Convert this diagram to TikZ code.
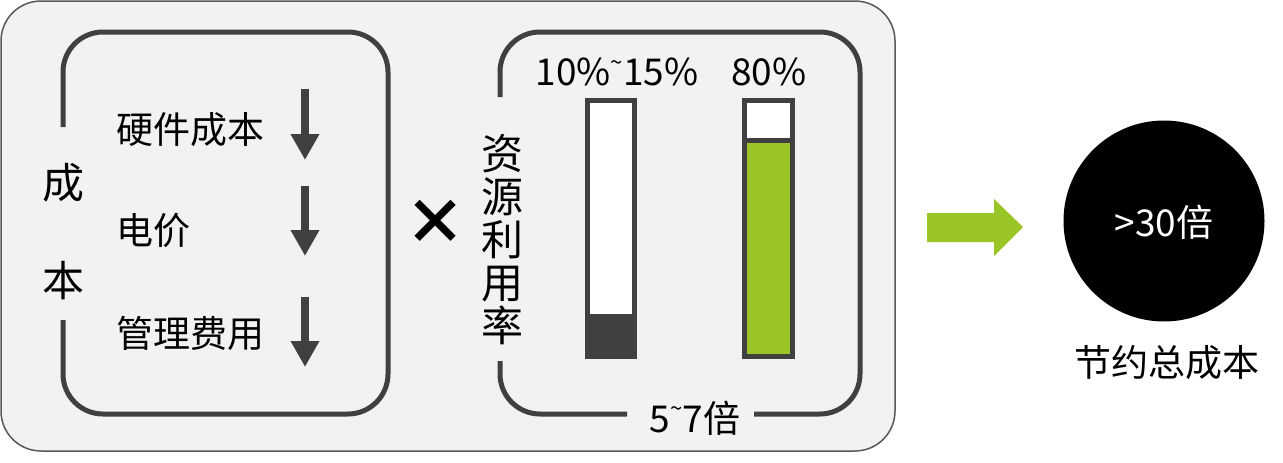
\documentclass[tikz,border=0pt]{standalone}
\usepackage{fontspec}
\setmainfont{Noto Sans CJK SC}
\usetikzlibrary{arrows.meta}
\definecolor{boxgray}{HTML}{F2F2F2}
\definecolor{outline}{HTML}{595959}
\definecolor{dark}{HTML}{404040}
\definecolor{leaf}{HTML}{99C527}
\newcommand{\hitilde}{\raisebox{0.42em}{\fontsize{22}{22}\selectfont\textasciitilde}}
\tikzset{
  outerbox/.style={draw=outline, line width=1.5pt, fill=boxgray, rounded corners=40pt},
  innerline/.style={draw=dark, line width=5pt, rounded corners=40pt},
  lbl/.style={inner sep=0pt, font=\fontsize{37}{40}\selectfont},
  biglbl/.style={inner sep=0pt, font=\fontsize{42}{44}\selectfont},
  downarrow/.style={draw=dark, line width=8pt, -{Triangle[width=27pt,length=26pt]}},
  bar/.style={draw=dark, line width=5pt},
}
\begin{document}
\begin{tikzpicture}[x=1pt,y=-1pt]
\useasboundingbox (0,0) rectangle (1283,463);
% outer box
\draw[outerbox] (1,1) rectangle (895,451);
% left inner box with gap
\draw[innerline] (63,127) -- (63,32) -- (388,32) -- (388,414) -- (63,414) -- (63,320);
\node[biglbl] (cheng) at (63,183) {成};
\node[biglbl] (ben) at (63,281) {本};
\node[lbl, anchor=west] (hw) at (116,130) {硬件成本};
\node[lbl, anchor=west] (elec) at (116,231) {电价};
\node[lbl, anchor=west] (mgmt) at (116,333) {管理费用};
\coordinate (a1s) at (305,89);  \coordinate (a1e) at (305,160);
\coordinate (a2s) at (305,186); \coordinate (a2e) at (305,256);
\coordinate (a3s) at (305,297); \coordinate (a3e) at (305,367);
\draw[downarrow] (a1s) -- (a1e);
\draw[downarrow] (a2s) -- (a2e);
\draw[downarrow] (a3s) -- (a3e);
% times sign
\node[inner sep=0pt, font=\fontsize{62}{64}\selectfont\bfseries] (times) at (435,222) {×};
% right inner box with gaps
\draw[innerline] (500,97) -- (500,32) -- (860,32) -- (860,414) -- (754,414);
\draw[innerline] (627,414) -- (500,414) -- (500,361);
\node[lbl] (mult) at (695,418) {5\hitilde 7倍};
\node[inner sep=0pt, align=center, font=\fontsize{42}{43}\selectfont] (util) at (502,240) {资\\源\\利\\用\\率};
\node[lbl] (p1) at (617,72) {10\%\hitilde 15\%};
\node[lbl] (p2) at (769,72) {80\%};
% bars
\fill[white] (587,100) rectangle (634,356);
\fill[dark] (587,314) rectangle (634,356);
\draw[bar] (587,100) rectangle (634,356);
\fill[white] (744,100) rectangle (792,140);
\fill[leaf] (744,140) rectangle (792,356);
\draw[bar] (744,100) rectangle (792,356);
\draw[bar] (744,140) -- (792,140);
% green arrow
\fill[leaf] (927,213) -- (994,213) -- (994,199) -- (1023,227) -- (994,256) -- (994,242) -- (927,242) -- cycle;
% circle
\node[circle, fill=black, minimum size=201pt, inner sep=0pt] (res) at (1164,221) {};
\node[lbl, text=white] (resl) at (1164,222) {>30倍};
\node[lbl] (save) at (1167,363) {节约总成本};
\end{tikzpicture}
\end{document}
